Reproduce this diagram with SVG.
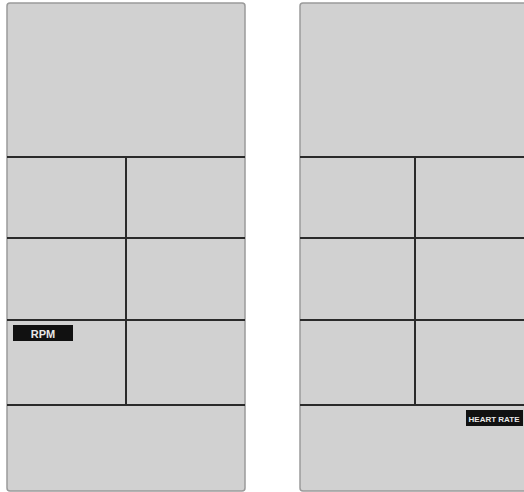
<svg xmlns="http://www.w3.org/2000/svg" width="524" height="492" viewBox="0 0 524 492">
<style>
.panel{fill:#d1d1d1;stroke:#9a9a9a;stroke-width:1.5}
.div{stroke:#2a2a2a;stroke-width:2;fill:none}
.tag{fill:#111}
.tagt{fill:#e8e8e8;font-family:"Liberation Sans",Arial,sans-serif;font-weight:bold;text-anchor:middle}
</style>
<rect width="524" height="492" fill="#ffffff"/>
<g id="left-panel">
<rect class="panel" x="7" y="3" width="238" height="488" rx="3"/>
</g>
<g id="right-panel">
<rect class="panel" x="300" y="3" width="230" height="488" rx="3"/>
</g>
<g id="connectors">
<path class="div" d="M7 157H245M7 238H245M7 320H245M7 405H245M126 157V405"/>
<path class="div" d="M300 157H524M300 238H524M300 320H524M300 405H524M415 157V405"/>
</g>
<g id="rpm-label">
<rect class="tag" x="13" y="325" width="60" height="16"/>
<text class="tagt" x="43" y="337.5" font-size="11">RPM</text>
</g>
<g id="heart-rate-label">
<rect class="tag" x="466" y="410" width="57" height="16"/>
<text class="tagt" x="494" y="421.5" font-size="8">HEART RATE</text>
</g>
</svg>
